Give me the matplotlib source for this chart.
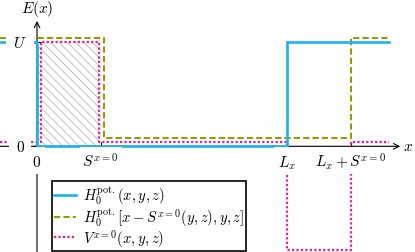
import numpy as np
import matplotlib
matplotlib.use("Agg")
import matplotlib.pyplot as plt
from matplotlib.patches import Rectangle
import matplotlib.transforms as mtransforms

plt.rcParams['mathtext.fontset'] = 'cm'
plt.rcParams['font.family'] = ['DejaVu Serif']
plt.rcParams['hatch.linewidth'] = 0.5
plt.rcParams['hatch.color'] = '#aaaaaa'

# ---- data ----
U = 1.0
S = 1.0
Lx = 3.94
x_left, x_right = -0.58, 5.54

blue_x = [x_left, 0, 0, Lx, Lx, x_right]
blue_y = [U, U, 0, 0, U, U]                      # H0(x)

olive_x = [x_left, S, S, Lx + S, Lx + S, x_right]
olive_y = [U, U, 0, 0, U, U]                     # H0(x - S)

mag_x = [x_left, 0, 0, S, S, Lx, Lx, Lx + S, Lx + S, x_right]
mag_y = [0, 0, U, U, 0, 0, -U, -U, 0, 0]         # V = H0(x-S) - H0(x)

xtick_vals = [0, S, Lx, Lx + S]
xtick_labels = [r'$0$', r'$S^{x=0}$', r'$L_x$', r'$L_x + S^{x=0}$']
ytick_vals = [0, U]
ytick_labels = [r'$0$', r'$U$']

legend_labels = [r'$H_0^{\mathrm{pot.}}(x,y,z)$',
                 r'$H_0^{\mathrm{pot.}}\left[x - S^{x=0}(y,z), y, z\right]$',
                 r'$V^{x=0}(x,y,z)$']

# ---- style ----
c_blue = '#1db2ea'
c_olive = '#999900'
c_mag = '#ee1a8f'

fig = plt.figure(figsize=(4.15, 2.53), dpi=100)
ax = fig.add_axes([0, 0, 1, 1])
ax.set_xlim(-0.583, 5.953)
ax.set_ylim(-1.016, 1.416)
ax.axis('off')

# axes with arrows
ax.annotate('', xy=(5.72, 0), xytext=(-0.583, 0),
            arrowprops=dict(arrowstyle='->', lw=0.8, color='black',
                            shrinkA=0, shrinkB=0), zorder=1)
ax.annotate('', xy=(0, 1.205), xytext=(0, -1.016),
            arrowprops=dict(arrowstyle='->', lw=0.8, color='black',
                            shrinkA=0, shrinkB=0), zorder=1)
ax.text(5.84, 0, r'$x$', fontsize=11, ha='center', va='center')
ax.text(0, 1.33, r'$E(x)$', fontsize=11, ha='center', va='center')

# hatched region
ax.fill_between([0, S], [0, 0], [U, U], facecolor='none', edgecolor='#aaaaaa',
                hatch='\\\\\\\\', linewidth=0, zorder=1)

# ticks
ax.plot(xtick_vals, np.zeros(len(xtick_vals)), ls='none', marker='|',
        ms=6, mew=0.8, color='black', zorder=1.5)
ax.plot(np.zeros(len(ytick_vals)), ytick_vals, ls='none', marker='_',
        ms=6, mew=0.8, color='black', zorder=1.5)

# curves (with small visual offsets to separate overlapping lines)
oy = 0.078 + np.array(olive_y) * (1 + 0.042 - 0.078)
ox = np.array(olive_x, dtype=float)
ox[1:3] += 0.05
my = np.array(mag_y, dtype=float)
my = my + 0.038 * (1 - np.abs(my))
mx = np.array(mag_x, dtype=float)
mx[1:3] += 0.07
mx[3:5] -= 0.02

l2, = ax.plot(ox, oy, color=c_olive, lw=1.5, ls=(0, (3, 1.5)), zorder=2)
l3, = ax.plot(mx, my, color=c_mag, lw=1.6, ls=(0, (1, 1)), zorder=2.5)
l1, = ax.plot(blue_x, blue_y, color=c_blue, lw=1.9, zorder=3,
              solid_joinstyle='miter')

# x tick labels with white background
widths = [16, 42, 26, 78]
for xv, lab, w in zip(xtick_vals, xtick_labels, widths):
    tr = mtransforms.Affine2D() + mtransforms.ScaledTranslation(xv, 0, ax.transData)
    ax.add_patch(Rectangle((-w / 2, -28), w, 27, transform=tr,
                           facecolor='white', edgecolor='none', zorder=4))
    ax.annotate(lab, xy=(xv, 0), xytext=(0, -14.4), textcoords='offset points',
                ha='center', va='baseline', fontsize=11, zorder=5)

for yv, lab in zip(ytick_vals, ytick_labels):
    ax.annotate(lab, xy=(0, yv), xytext=(-12.2, 0), textcoords='offset points',
                ha='center', va='center', fontsize=11, zorder=5,
                bbox=dict(boxstyle='square,pad=0.45', facecolor='white',
                          edgecolor='none'))

leg = ax.legend([l1, l2, l3], legend_labels, loc='lower left',
                bbox_to_anchor=(52 / 415, 1 / 253), fontsize=10.5,
                frameon=True, fancybox=False, framealpha=1, edgecolor='black',
                handlelength=1.5, handletextpad=0.45, labelspacing=-0.08,
                borderpad=0.15, borderaxespad=0)
leg.get_frame().set_linewidth(1.2)
leg.set_zorder(6)

fig.savefig('out.png', dpi=100)
